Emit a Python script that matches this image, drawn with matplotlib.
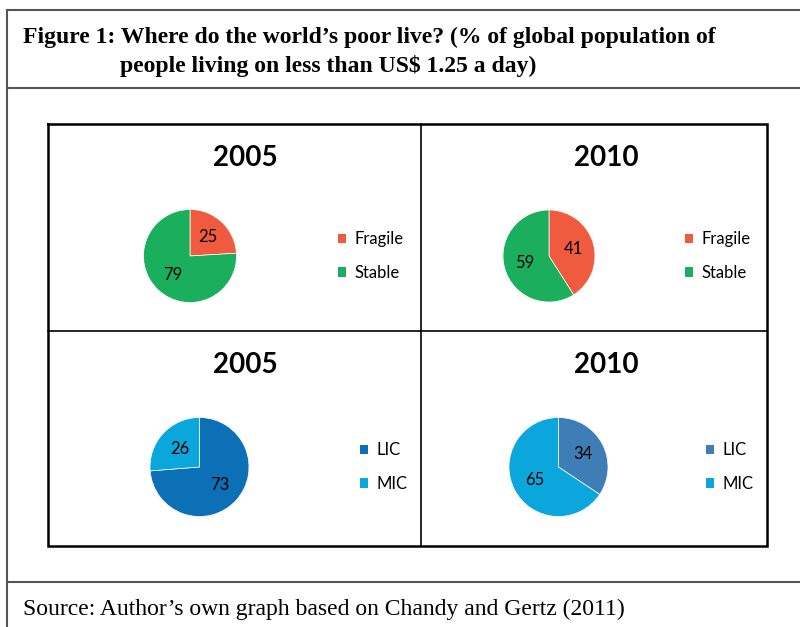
import matplotlib.pyplot as plt
from matplotlib.patches import Patch

# data
years = ["2005", "2010"]
fragility_labels = ["Fragile", "Stable"]
fragile_stable = [[25, 79], [41, 59]]
income_labels = ["LIC", "MIC"]
lic_mic = [[73, 26], [34, 65]]

fs_colors = ["#F05A3F", "#1BAF5D"]
inc_colors = [["#0B70B5", "#0BA6DC"], ["#3E7DB6", "#0BA6DC"]]

W, H = 800, 627
fig = plt.figure(figsize=(W / 100, H / 100), dpi=100)
bg = fig.add_axes([0, 0, 1, 1])
bg.set_xlim(0, W)
bg.set_ylim(H, 0)
bg.axis("off")

# outer frame
gray = "#555555"
bg.plot([7, 7], [10, H], color=gray, lw=1.5)
for y in (10, 88, 582):
    bg.plot([7, W], [y, y], color=gray, lw=1.5)

serif = "Liberation Serif"
bg.text(23, 37, "Figure 1: Where do the world\u2019s poor live? (% of global population of",
        fontsize=17, fontweight="bold", family=serif, va="center", ha="left")
bg.text(120, 66, "people living on less than US$ 1.25 a day)",
        fontsize=17, fontweight="bold", family=serif, va="center", ha="left")
bg.text(23, 609, "Source: Author\u2019s own graph based on Chandy and Gertz (2011)",
        fontsize=17, family=serif, va="center", ha="left")

# 2x2 grid
gx0, gx1, gxm = 48, 767, 421
gy0, gy1, gym = 124, 546, 331
bg.plot([gx0, gx1, gx1, gx0, gx0], [gy0, gy0, gy1, gy1, gy0], color="black", lw=1.8,
        solid_joinstyle="miter")
bg.plot([gxm, gxm], [gy0, gy1], color="black", lw=1.2)
bg.plot([gx0, gx1], [gym, gym], color="black", lw=1.2)

sans = ["Lato", "DejaVu Sans"]


def draw_pie(values, colors, labels, cx, cy, r, title_xy, leg_xy):
    ax = fig.add_axes([(cx - r) / W, 1 - (cy + r) / H, 2 * r / W, 2 * r / H])
    total = sum(values)
    ax.pie(values, colors=colors, startangle=90, counterclock=False, radius=1,
           autopct=lambda p: "%d" % round(p * total / 100), pctdistance=0.55,
           wedgeprops=dict(edgecolor="white", linewidth=0.5),
           textprops=dict(fontsize=12, family=sans, color="black"))
    ax.set_xlim(-1, 1)
    ax.set_ylim(-1, 1)
    bg.text(title_xy[0], title_xy[1], title_xy[2], fontsize=20, fontweight="bold",
            family=sans, ha="center", va="center")
    handles = [Patch(facecolor=c, edgecolor="none") for c in colors]
    fig.legend(handles, labels, loc="center left",
               bbox_to_anchor=(leg_xy[0] / W, 1 - leg_xy[1] / H),
               frameon=False, borderpad=0, borderaxespad=0,
               handlelength=0.5, handleheight=0.5, handletextpad=0.5,
               labelspacing=1.05, prop=dict(family=sans, size=12))


draw_pie(fragile_stable[0], fs_colors, fragility_labels, 190, 256, 46.5,
         (245, 158, years[0]), (338, 256))
draw_pie(fragile_stable[1], fs_colors, fragility_labels, 549, 256, 46,
         (606, 158, years[1]), (685, 256))
draw_pie(lic_mic[0], inc_colors[0], income_labels, 199.5, 467, 49.5,
         (245, 365, years[0]), (360, 467))
draw_pie(lic_mic[1], inc_colors[1], income_labels, 558.5, 467, 49.5,
         (606, 365, years[1]), (706, 467))

fig.savefig("out.png", dpi=100)
